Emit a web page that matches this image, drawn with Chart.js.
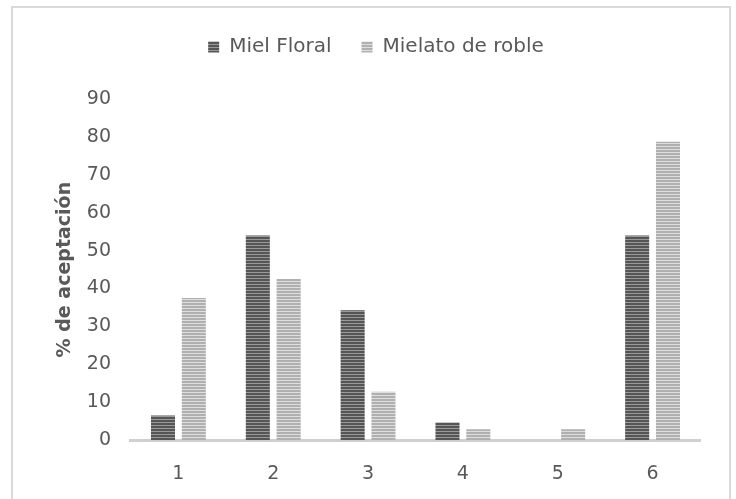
<!DOCTYPE html>
<html>
<head>
<meta charset="utf-8">
<script src="https://cdn.jsdelivr.net/npm/chart.js@4/dist/chart.umd.min.js"></script>
<style>
  html, body { margin: 0; padding: 0; background: #ffffff; }
  #wrap { position: relative; width: 736px; height: 499px; overflow: hidden; }
</style>
</head>
<body>
<div id="wrap">
  <canvas id="myChart" width="736" height="499"></canvas>
</div>
<script>
const categories = ['1', '2', '3', '4', '5', '6'];
const mielFloral = [6.5, 54, 34.3, 4.7, 0, 54];
const mielatoRoble = [37.5, 42.5, 12.8, 2.9, 2.9, 78.7];
const yTicks = [0, 10, 20, 30, 40, 50, 60, 70, 80, 90];

const textColor = '#595959';
const fontFamily = '"DejaVu Sans", sans-serif';

// horizontal stripe fill for the bars
function stripes(dark, light) {
    const c = document.createElement('canvas');
    c.width = 4;
    c.height = 3;
    const g = c.getContext('2d');
    g.fillStyle = light;
    g.fillRect(0, 0, 4, 3);
    g.fillStyle = dark;
    g.fillRect(0, 0, 4, 2);
    return g.createPattern(c, 'repeat');
}

// light grey frame around the whole chart
const framePlugin = {
    id: 'frame',
    beforeDraw(chart) {
        const ctx = chart.ctx;
        ctx.save();
        ctx.strokeStyle = '#d9d9d9';
        ctx.lineWidth = 2;
        ctx.strokeRect(12, 7, 718, 520);
        ctx.restore();
    }
};

// extra room under the legend, and nudge it a little to the right
const legendGap = {
    id: 'legendGap',
    beforeInit(chart) {
        const fit = chart.legend.fit;
        chart.legend.fit = function () {
            fit.call(this);
            this.height += 32;
        };
    },
    afterLayout(chart) {
        chart.legend.left += 6;
        chart.legend.right += 6;
    }
};

const ctx = document.getElementById('myChart').getContext('2d');

const data = {
    labels: categories,
    datasets: [
        {
            label: 'Miel Floral',
            data: mielFloral,
            backgroundColor: stripes('#555555', '#999999'),
            borderWidth: 0,
        },
        {
            label: 'Mielato de roble',
            data: mielatoRoble,
            backgroundColor: stripes('#b0b0b0', '#dedede'),
            borderWidth: 0,
        },
    ]
};

const config = {
    type: 'bar',
    data: data,
    options: {
        responsive: false,
        animation: false,
        categoryPercentage: 0.65,
        barPercentage: 0.78,
        layout: {
            padding: { top: 7, left: 40, right: 36, bottom: -8 }
        },
        plugins: {
            legend: {
                position: 'top',
                labels: {
                    color: textColor,
                    font: { family: fontFamily, size: 20 },
                    boxWidth: 11,
                    boxHeight: 11,
                    padding: 30,
                }
            },
            tooltip: { enabled: false },
        },
        scales: {
            x: {
                grid: { display: false, drawTicks: false },
                border: { display: true, color: '#d0d0d0', width: 3 },
                ticks: {
                    color: textColor,
                    font: { family: fontFamily, size: 19 },
                    padding: 22,
                }
            },
            y: {
                min: 0,
                max: 90,
                afterBuildTicks(scale) {
                    scale.ticks = yTicks.map(v => ({ value: v }));
                },
                grid: { display: false, drawTicks: false },
                border: { display: false },
                ticks: {
                    color: textColor,
                    font: { family: fontFamily, size: 19 },
                    padding: 20,
                },
                title: {
                    display: true,
                    text: '% de aceptación',
                    color: textColor,
                    font: { family: fontFamily, size: 19, weight: 'bold' },
                    padding: { top: 14, bottom: -10 },
                }
            }
        }
    },
    plugins: [framePlugin, legendGap],
};

new Chart(ctx, config);
</script>
</body>
</html>
